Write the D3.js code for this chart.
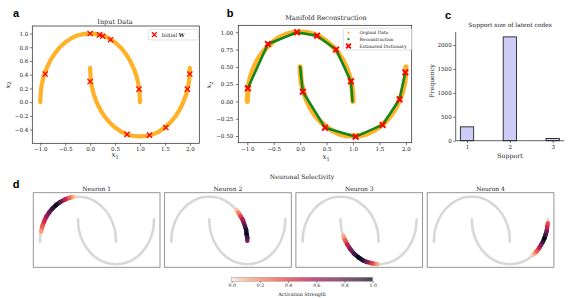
<!DOCTYPE html>
<html>
<head>
<meta charset="utf-8">
<script src="https://cdn.jsdelivr.net/npm/d3@7"></script>
<style>
  body { margin: 0; background: #fff; }
  svg { display: block; }
</style>
</head>
<body>
<svg id="fig"></svg>
<script>
// two-moons curves
const upperMoon = [[-1.00, 0.00], [-0.97, 0.26], [-0.87, 0.50], [-0.71, 0.71], [-0.50, 0.87], [-0.26, 0.97], [0.00, 1.00],
    [0.26, 0.97], [0.50, 0.87], [0.71, 0.71], [0.87, 0.50], [0.97, 0.26], [1.00, 0.00]];
const lowerMoon = [[0.00, 0.50], [0.03, 0.24], [0.13, 0.00], [0.29, -0.21], [0.50, -0.37], [0.74, -0.47], [1.00, -0.50],
    [1.26, -0.47], [1.50, -0.37], [1.71, -0.21], [1.87, 0.00], [1.97, 0.24], [2.00, 0.50]];

const initialW = [[0.00, 1.00], [0.19, 0.98], [0.25, 0.96], [0.41, 0.91], [-0.90, 0.41], [0.00, 0.30],
    [0.98, 0.19], [2.00, 0.41], [1.95, 0.19], [1.52, -0.37], [1.19, -0.48], [0.74, -0.47]];

const dictAtoms = [[-0.99, 0.19], [-0.61, 0.83], [-0.06, 1.00], [0.32, 0.95], [0.68, 0.75], [0.96, 0.29],
    [0.05, 0.14], [0.47, -0.38], [1.05, -0.51], [1.56, -0.34], [1.88, 0.03], [1.99, 0.42]];
const reconUpper = [[-0.99, 0.19], [-0.61, 0.83], [-0.06, 1.00], [0.32, 0.95], [0.68, 0.75], [0.96, 0.29], [0.99, 0.00]];
const reconLower = [[0.00, 0.50], [0.05, 0.14], [0.47, -0.38], [1.05, -0.51], [1.56, -0.34], [1.88, 0.03], [1.99, 0.42]];

const supportSizes = [1, 2, 3];
const supportCounts = [290, 2170, 45];

// [x, y, activation] along each neuron's receptive field
const neuron1 = [[-0.97, 0.22, 0.12], [-0.94, 0.34, 0.30], [-0.89, 0.45, 0.45], [-0.83, 0.56, 0.60], [-0.75, 0.66, 0.78],
    [-0.67, 0.74, 0.92], [-0.57, 0.82, 1.00], [-0.47, 0.88, 0.85], [-0.34, 0.94, 0.55], [-0.21, 0.98, 0.28], [-0.09, 1.00, 0.05]];
const neuron2 = [[0.71, 0.71, 0.05], [0.77, 0.64, 0.20], [0.82, 0.57, 0.38], [0.87, 0.50, 0.55], [0.91, 0.42, 0.72],
    [0.94, 0.34, 0.85], [0.97, 0.26, 0.95], [0.98, 0.17, 1.00], [1.00, 0.09, 0.90], [1.00, 0.02, 0.70]];
const neuron3 = [[0.07, 0.13, 0.10], [0.12, 0.03, 0.30], [0.18, -0.07, 0.50], [0.26, -0.17, 0.70], [0.36, -0.27, 0.88],
    [0.47, -0.35, 1.00], [0.58, -0.41, 0.95], [0.69, -0.45, 0.75], [0.83, -0.48, 0.40], [0.97, -0.50, 0.10]];
const neuron4 = [[1.60, -0.30, 0.05], [1.66, -0.25, 0.15], [1.71, -0.21, 0.30], [1.77, -0.14, 0.50], [1.82, -0.07, 0.70],
    [1.87, 0.00, 0.90], [1.91, 0.08, 1.00], [1.94, 0.16, 0.90], [1.97, 0.24, 0.75], [1.98, 0.33, 0.50], [2.00, 0.41, 0.35]];
const neurons = [neuron1, neuron2, neuron3, neuron4];
const neuronNames = ["Neuron 1", "Neuron 2", "Neuron 3", "Neuron 4"];

const xTicksAB = [-1, -0.5, 0, 0.5, 1, 1.5, 2];
const yTicksA = [-0.4, -0.2, 0, 0.2, 0.4, 0.6, 0.8, 1.0];
const yTicksB = [-0.5, -0.25, 0, 0.25, 0.5, 0.75, 1.0];
const yTicksC = [0, 500, 1000, 1500, 2000];
const cbTicks = [0, 0.2, 0.4, 0.6, 0.8, 1.0];

const serif = "'DejaVu Serif', serif";
const sans = "'Liberation Sans', Arial, sans-serif";

// reversed "rocket" colormap
const rocketR = d3.scaleLinear()
    .domain([0, 0.083, 0.25, 0.417, 0.583, 0.75, 0.917, 1])
    .range(["#faebdd", "#f6b48f", "#f37651", "#e13342", "#ad1759", "#701f57", "#35193e", "#03051a"])
    .interpolate(d3.interpolateRgb)
    .clamp(true);

const svg = d3.select("#fig").attr("width", 571).attr("height", 298);
svg.append("rect").attr("width", 571).attr("height", 298).attr("fill", "#fff");
const defs = svg.append("defs");

const curve = d3.line().curve(d3.curveCatmullRom);

function styleAxis(g, size) {
    g.attr("font-family", serif).attr("font-size", size);
    g.select(".domain").remove();
    g.selectAll(".tick line").attr("stroke", "#222").attr("stroke-width", 0.6);
    g.selectAll(".tick text").attr("fill", "#222");
}

function box(x0, x1, y0, y1, color, w) {
    svg.append("rect")
        .attr("x", x0).attr("y", y0)
        .attr("width", x1 - x0).attr("height", y1 - y0)
        .attr("fill", "none").attr("stroke", color).attr("stroke-width", w);
}

function text(x, y, str, size, opts = {}) {
    return svg.append("text")
        .attr("x", x).attr("y", y)
        .attr("text-anchor", opts.anchor || "middle")
        .attr("dominant-baseline", "central")
        .attr("font-family", opts.family || serif)
        .attr("font-size", size)
        .attr("font-weight", opts.weight || "normal")
        .attr("fill", opts.fill || "#222")
        .text(str);
}

function axisLabel(x, y, sub, rot) {
    const t = svg.append("text")
        .attr("transform", `translate(${x},${y}) rotate(${rot})`)
        .attr("text-anchor", "middle")
        .attr("dominant-baseline", "central")
        .attr("font-family", serif).attr("font-size", 7).attr("fill", "#222");
    t.append("tspan").attr("font-style", "italic").text("x");
    t.append("tspan").attr("font-size", 5).attr("dy", 1.5).text(sub);
}

function cross(g, pts, xs, ys, s, w) {
    g.selectAll(null)
        .data(pts)
        .enter()
        .append("path")
        .attr("d", d => {
            const cx = xs(d[0]), cy = ys(d[1]);
            return `M${cx - s},${cy - s}L${cx + s},${cy + s}M${cx - s},${cy + s}L${cx + s},${cy - s}`;
        })
        .attr("stroke", "red").attr("stroke-width", w).attr("fill", "none");
}

// ---------- panel a ----------
const xA = d3.scaleLinear().domain([-1.16, 2.19]).range([32.3, 199.3]);
const yA = d3.scaleLinear().domain([-0.60, 1.11]).range([143.3, 26]);

const gA = svg.append("g");
[upperMoon, lowerMoon].forEach(m => {
    gA.append("path")
        .attr("d", curve(m.map(d => [xA(d[0]), yA(d[1])])))
        .attr("fill", "none").attr("stroke", "#ffa90f").attr("stroke-opacity", 0.9)
        .attr("stroke-width", 4.2).attr("stroke-linecap", "round");
});
cross(gA, initialW, xA, yA, 2.6, 1.3);

svg.append("g").attr("transform", "translate(0,143.3)")
    .call(d3.axisBottom(xA).tickValues(xTicksAB).tickFormat(d3.format(".1f")).tickSize(2.5).tickPadding(1.5))
    .call(g => styleAxis(g, 5.6));
svg.append("g").attr("transform", "translate(32.3,0)")
    .call(d3.axisLeft(yA).tickValues(yTicksA).tickFormat(d3.format(".1f")).tickSize(2.5).tickPadding(1.5))
    .call(g => styleAxis(g, 5.6));
box(32.3, 199.3, 26, 143.3, "#222", 0.7);

// legend a
svg.append("rect").attr("x", 148.7).attr("y", 29.3).attr("width", 49.6).attr("height", 10.7)
    .attr("rx", 1.5).attr("fill", "#fff").attr("stroke", "#ccc").attr("stroke-width", 0.6);
cross(svg, [[154.3, 34.7]], d => d, d => d, 2.4, 1.3);
const lgA = text(161.5, 34.7, "Initial ", 5.2, { anchor: "start" });
lgA.append("tspan").attr("font-weight", "bold").text("W");

text(115, 22, "Input Data", 6.5);
axisLabel(115, 155, "1", 0);
axisLabel(7.5, 85, "2", -90);
text(16, 13, "a", 11, { family: sans, weight: "bold", fill: "#000" });

// ---------- panel b ----------
const xB = d3.scaleLinear().domain([-1.17, 2.11]).range([238.3, 411.7]);
const yB = d3.scaleLinear().domain([-0.597, 1.10]).range([142.7, 25.3]);

const gB = svg.append("g");
[upperMoon, lowerMoon].forEach(m => {
    gB.append("path")
        .attr("d", curve(m.map(d => [xB(d[0]), yB(d[1])])))
        .attr("fill", "none").attr("stroke", "#ffa90f").attr("stroke-opacity", 0.9)
        .attr("stroke-width", 5.2).attr("stroke-linecap", "round");
});
[reconUpper, reconLower].forEach(r => {
    gB.append("path")
        .attr("d", d3.line()(r.map(d => [xB(d[0]), yB(d[1])])))
        .attr("fill", "none").attr("stroke", "#14861a")
        .attr("stroke-width", 2.6).attr("stroke-linecap", "round").attr("stroke-linejoin", "round");
});
cross(gB, dictAtoms, xB, yB, 2.8, 1.9);

svg.append("g").attr("transform", "translate(0,142.7)")
    .call(d3.axisBottom(xB).tickValues(xTicksAB).tickFormat(d3.format(".1f")).tickSize(2.5).tickPadding(1.5))
    .call(g => styleAxis(g, 5.6));
svg.append("g").attr("transform", "translate(238.3,0)")
    .call(d3.axisLeft(yB).tickValues(yTicksB).tickFormat(d3.format(".2f")).tickSize(2.5).tickPadding(2.5))
    .call(g => styleAxis(g, 5.6));
box(238.3, 411.7, 25.3, 142.7, "#222", 0.7);

// legend b
svg.append("rect").attr("x", 343.3).attr("y", 28.3).attr("width", 68.4).attr("height", 21.7)
    .attr("rx", 1.5).attr("fill", "#fff").attr("fill-opacity", 0.85).attr("stroke", "#ccc").attr("stroke-width", 0.6);
svg.append("circle").attr("cx", 348.5).attr("cy", 32.5).attr("r", 1.1).attr("fill", "#ffa90f");
svg.append("circle").attr("cx", 348.5).attr("cy", 39.2).attr("r", 1.1).attr("fill", "#14861a");
cross(svg, [[348.5, 46]], d => d, d => d, 2.4, 1.8);
text(359.5, 32.5, "Orginal Data", 4.4, { anchor: "start" });
text(359.5, 39.2, "Reconstruction", 4.4, { anchor: "start" });
text(359.5, 46, "Estimated Dictionary", 4.4, { anchor: "start" });

text(326, 18, "Manifold Reconstruction", 6.5);
axisLabel(326, 157, "1", 0);
axisLabel(209, 85, "2", -90);
text(230, 13, "b", 11, { family: sans, weight: "bold", fill: "#000" });

// ---------- panel c ----------
const xC = d3.scaleLinear().domain([0.736, 3.264]).range([455.7, 564]);
const yC = d3.scaleLinear().domain([0, 2272]).range([140.7, 32]);
const barW = xC(1.31) - xC(1);

svg.append("g").selectAll("rect")
    .data(supportSizes)
    .enter()
    .append("rect")
    .attr("x", (d, i) => xC(d) - barW / 2)
    .attr("y", (d, i) => yC(supportCounts[i]))
    .attr("width", barW)
    .attr("height", (d, i) => yC(0) - yC(supportCounts[i]))
    .attr("fill", "#cdcdf8")
    .attr("stroke", "#222").attr("stroke-width", 0.9);

svg.append("g").attr("transform", "translate(0,140.7)")
    .call(d3.axisBottom(xC).tickValues(supportSizes).tickFormat(d3.format("d")).tickSize(2.5).tickPadding(1.5))
    .call(g => styleAxis(g, 5.6));
svg.append("g").attr("transform", "translate(455.7,0)")
    .call(d3.axisLeft(yC).tickValues(yTicksC).tickFormat(d3.format("d")).tickSize(2.5).tickPadding(1.5))
    .call(g => styleAxis(g, 5.6));
svg.append("path").attr("d", "M455.7,32V140.7H564")
    .attr("fill", "none").attr("stroke", "#222").attr("stroke-width", 0.7);

text(510, 25, "Support size of latent codes", 5.9);
text(510, 155, "Support", 6.2);
svg.append("text")
    .attr("transform", "translate(431,81) rotate(-90)")
    .attr("text-anchor", "middle").attr("dominant-baseline", "central")
    .attr("font-family", serif).attr("font-size", 6.2).attr("fill", "#222")
    .text("Frequency");
text(448, 15, "c", 11, { family: sans, weight: "bold", fill: "#000" });

// ---------- panel d ----------
text(16, 184, "d", 11, { family: sans, weight: "bold", fill: "#000" });
text(302, 176, "Neuronal Selectivity", 6.2);

const nTop = 192.7, nBottom = 267.3, nWidth = 126.7;
neurons.forEach((pts, i) => {
    const left = 33.3 + i * 131.3;
    const xN = d3.scaleLinear().domain([-1.176, 2.158]).range([left, left + nWidth]);
    const yN = d3.scaleLinear().domain([-0.569, 1.089]).range([nBottom, nTop]);
    const g = svg.append("g");

    [upperMoon, lowerMoon].forEach(m => {
        g.append("path")
            .attr("d", curve(m.map(d => [xN(d[0]), yN(d[1])])))
            .attr("fill", "none").attr("stroke", "#d8d8d8")
            .attr("stroke-width", 2.6).attr("stroke-linecap", "round");
    });

    d3.pairs(pts).forEach(([p, q], j) => {
        const id = `grad-${i}-${j}`;
        const grad = defs.append("linearGradient")
            .attr("id", id)
            .attr("gradientUnits", "userSpaceOnUse")
            .attr("x1", xN(p[0])).attr("y1", yN(p[1]))
            .attr("x2", xN(q[0])).attr("y2", yN(q[1]));
        grad.append("stop").attr("offset", "0%").attr("stop-color", rocketR(p[2]));
        grad.append("stop").attr("offset", "100%").attr("stop-color", rocketR(q[2]));
        g.append("line")
            .attr("x1", xN(p[0])).attr("y1", yN(p[1]))
            .attr("x2", xN(q[0])).attr("y2", yN(q[1]))
            .attr("stroke", `url(#${id})`)
            .attr("stroke-width", 4.4).attr("stroke-linecap", "round");
    });

    box(left, left + nWidth, nTop, nBottom, "#8a8a8a", 0.9);
    text(left + nWidth / 2, 188.5, neuronNames[i], 6);
});

// colorbar
const cbX = d3.scaleLinear().domain([0, 1]).range([231.7, 372.7]);
const cbGrad = defs.append("linearGradient").attr("id", "cb-grad");
cbGrad.selectAll("stop")
    .data(d3.range(0, 1.001, 0.05))
    .enter()
    .append("stop")
    .attr("offset", d => (d * 100) + "%")
    .attr("stop-color", d => rocketR(d));
svg.append("rect")
    .attr("x", cbX(0)).attr("y", 277.3)
    .attr("width", cbX(1) - cbX(0)).attr("height", 4)
    .attr("fill", "url(#cb-grad)").attr("fill-opacity", 0.75)
    .attr("stroke", "#888").attr("stroke-width", 0.4);
svg.append("g").attr("transform", "translate(0,281.3)")
    .call(d3.axisBottom(cbX).tickValues(cbTicks).tickFormat(d3.format(".1f")).tickSize(1.5).tickPadding(1))
    .call(g => styleAxis(g, 4.6));
text(302, 294, "Activation Strength", 4.8);
</script>
</body>
</html>
